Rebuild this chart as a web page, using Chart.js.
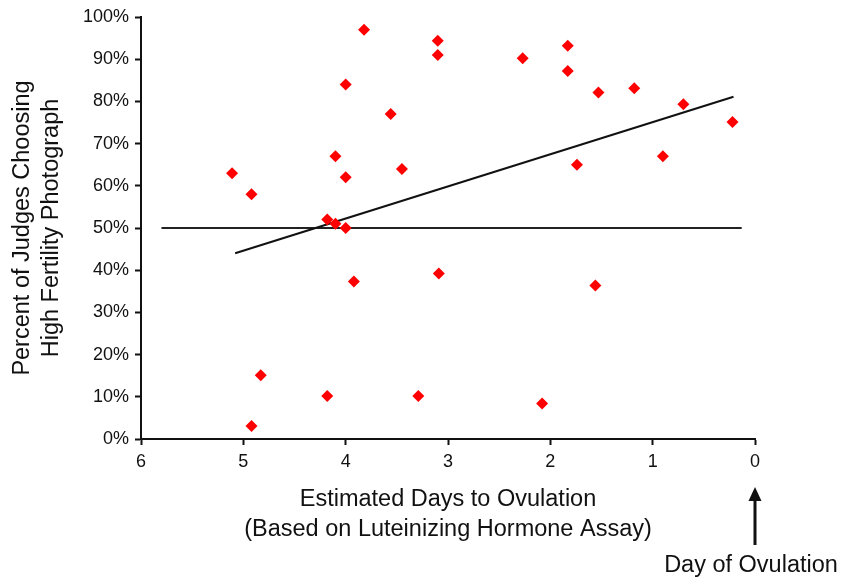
<!DOCTYPE html>
<html>
<head>
<meta charset="utf-8">
<script src="https://cdn.jsdelivr.net/npm/chart.js@4.4.1/dist/chart.umd.min.js"></script>
<style>
  html, body { margin: 0; padding: 0; background: #fff; }
  #ovulationChart { display: block; }
</style>
</head>
<body>
<canvas id="ovulationChart" width="842" height="581"></canvas>
<script>
// estimated days to ovulation / percent of judges picking the high fertility photo
const daysToOvulation = [5.11, 4.92, 3.82, 4.00, 3.56, 4.10, 3.45, 4.00, 4.18, 4.10, 4.00,
    3.10, 3.10, 2.27, 1.83, 1.83, 1.53, 1.18, 0.70, 0.22, 1.74, 0.90,
    3.92, 4.83, 4.18, 4.92, 3.29, 3.09, 1.56, 2.08];
const percentChoosing = [63, 58, 97, 84, 77, 67, 64, 62, 52, 51, 50,
    94.4, 91, 90.2, 93.2, 87.2, 82.1, 83.1, 79.3, 75.1, 65, 67,
    37.3, 15.1, 10.2, 3.1, 10.2, 39.2, 36.4, 8.4];

// chance line and regression line end points
const chanceLineX = [5.8, 0.13];
const chanceLineY = [50, 50];
const fitLineX = [5.08, 0.21];
const fitLineY = [44, 81.1];

const xTickLabels = ['0', '1', '2', '3', '4', '5', '6'];
const yTickSuffix = '%';

const fontFamily = '"Liberation Sans", Arial, Helvetica, sans-serif';

function toPoints(xs, ys) {
    return xs.map((x, i) => ({ x: x, y: ys[i] }));
}

const ovulationArrow = {
    id: 'ovulationArrow',
    afterDraw(chart) {
        const ctx = chart.ctx;
        const x = chart.scales.x.getPixelForValue(0);
        ctx.save();
        ctx.fillStyle = '#111';
        ctx.strokeStyle = '#111';
        ctx.lineWidth = 3;
        ctx.beginPath();
        ctx.moveTo(x, 545);
        ctx.lineTo(x, 497);
        ctx.stroke();
        ctx.beginPath();
        ctx.moveTo(x, 487);
        ctx.lineTo(x - 6.5, 501);
        ctx.lineTo(x + 6.5, 501);
        ctx.closePath();
        ctx.fill();
        ctx.font = '23.5px ' + fontFamily;
        ctx.textAlign = 'center';
        ctx.textBaseline = 'middle';
        ctx.fillText('Day of Ovulation', x - 4, 566);
        ctx.restore();
    }
};

let ovulationCanvas = document.getElementById('ovulationChart').getContext('2d');
let ovulationChart = new Chart(ovulationCanvas, {
    type: 'scatter',
    data: {
        datasets: [{
            data: toPoints(daysToOvulation, percentChoosing),
            pointStyle: 'rectRot',
            pointRadius: 6,
            pointBorderWidth: 0,
            backgroundColor: '#ff0000',
            borderColor: '#ff0000',
            order: 0
        }, {
            data: toPoints(fitLineX, fitLineY),
            showLine: true,
            pointRadius: 0,
            borderColor: '#111',
            borderWidth: 2,
            order: 1
        }, {
            data: toPoints(chanceLineX, chanceLineY),
            showLine: true,
            pointRadius: 0,
            borderColor: '#222',
            borderWidth: 2.2,
            order: 2
        }]
    },
    options: {
        responsive: false,
        animation: false,
        layout: {
            padding: { top: 17, right: 87, bottom: 0, left: 0 }
        },
        plugins: {
            legend: { display: false },
            tooltip: { enabled: false }
        },
        scales: {
            x: {
                type: 'linear',
                reverse: true,
                min: 0,
                max: 6,
                afterFit: (scale) => { scale.height = 142; },
                border: { display: true, color: '#111', width: 2 },
                grid: {
                    drawOnChartArea: false,
                    drawTicks: true,
                    tickLength: 6,
                    tickWidth: 2,
                    tickColor: '#111'
                },
                ticks: {
                    stepSize: 1,
                    padding: 6,
                    color: '#111',
                    font: { family: fontFamily, size: 18 },
                    callback: (value) => xTickLabels[value]
                },
                title: {
                    display: true,
                    text: ['Estimated Days to Ovulation', '(Based on Luteinizing Hormone Assay)'],
                    color: '#111',
                    font: { family: fontFamily, size: 23.5, lineHeight: 30 / 23.5 },
                    padding: { top: 0, bottom: 36 }
                }
            },
            y: {
                min: 0,
                max: 100,
                afterFit: (scale) => { scale.width = 141; },
                border: { display: true, color: '#111', width: 2 },
                grid: {
                    drawOnChartArea: false,
                    drawTicks: true,
                    tickLength: 6,
                    tickWidth: 2,
                    tickColor: '#111'
                },
                ticks: {
                    stepSize: 10,
                    padding: 6,
                    color: '#111',
                    font: { family: fontFamily, size: 18 },
                    callback: (value) => value + yTickSuffix
                },
                title: {
                    display: true,
                    text: ['Percent of Judges Choosing', 'High Fertility Photograph'],
                    color: '#111',
                    font: { family: fontFamily, size: 23.5, lineHeight: 29 / 23.5 },
                    padding: { top: 8.5, bottom: 0 }
                }
            }
        }
    },
    plugins: [ovulationArrow]
});
</script>
</body>
</html>
